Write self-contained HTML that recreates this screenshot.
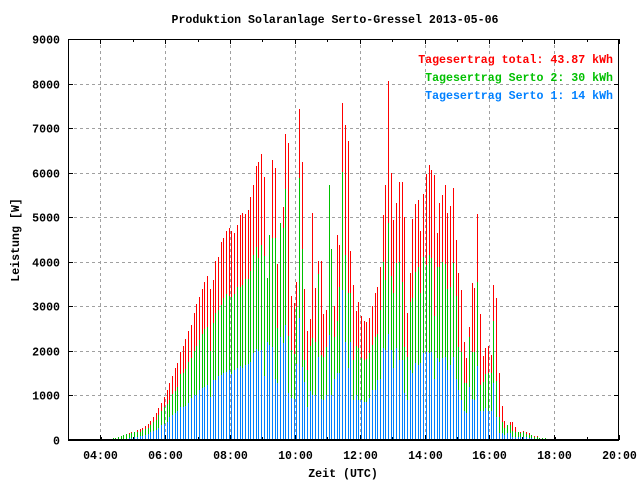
<!DOCTYPE html>
<html><head><meta charset="utf-8"><style>
html,body{margin:0;padding:0;background:#fff}
svg{display:block}
text{font-family:"Liberation Mono",monospace;font-weight:bold;font-size:11.6px}
</style></head><body>
<svg id="chart" width="640" height="480" viewBox="0 0 640 480" xmlns="http://www.w3.org/2000/svg" shape-rendering="crispEdges">
<rect width="640" height="480" fill="#fff"/>
<text x="335" y="23" text-anchor="middle">Produktion Solaranlage Serto-Gressel 2013-05-06</text>
<g id="grid"></g>
<g id="bars"></g>
<g id="axes"></g>
<text x="343" y="477" text-anchor="middle">Zeit (UTC)</text>
<text transform="translate(19,240) rotate(-90)" text-anchor="middle">Leistung [W]</text>
<g>
<text x="613" y="63" text-anchor="end" fill="#ff0000">Tagesertrag total: 43.87 kWh</text>
<text x="613" y="81" text-anchor="end" fill="#00c000">Tagesertrag Serto 2: 30 kWh</text>
<text x="613" y="99" text-anchor="end" fill="#0080ff">Tagesertrag Serto 1: 14 kWh</text>
</g>
</svg>
<script>
const startMinute = 257.5;
const stepMinutes = 5;
const totalW = [20,45,50,75,100,120,140,150,180,190,220,250,270,320,370,430,520,600,720,840,970,1120,1280,1440,1610,1720,1980,
2110,2270,2450,2580,2850,3050,3210,3390,3550,3670,3390,3590,4020,4110,4440,
4540,4690,4760,4690,4650,4820,5040,5100,5070,5160,5450,5720,6160,6240,6420,5900,3630,4600,6280,6100,3960,4860,5230,6870,6670,3230,3070,3550,7420,6240,3390,2450,2720,5100,3410,4020,4020,2830,2920,5720,4290,3000,4600,4380,
7560,7070,6720,4240,3480,2900,3100,2780,2680,2650,2730,3010,3310,3430,3890,5050,5720,8060,6000,4940,5330,5780,5800,5010,2840,3740,4970,5300,5390,4680,5520,5980,6170,6070,5950,4640,5330,5500,5720,5100,5250,5650,4490,3740,3370,2210,1830,2540,
3530,3420,5070,2830,1890,2070,2110,1910,3480,3190,1500,760,430,340,410,410,300,190,190,210,190,150,110,90,90,50,50,50,30];
const serto2W = [20,45,50,75,100,120,140,140,160,170,170,190,220,250,280,330,400,460,550,640,730,810,900,1030,1110,1180,1480,
1500,1590,1740,1840,2000,2120,2240,2380,2500,2540,2000,2630,2840,2920,3040,
3180,3280,3230,3210,3280,3440,3430,3490,3610,3620,3790,4150,4340,4080,4380,4140,3630,4600,4540,4530,2510,4860,4750,5630,2340,2020,1930,2990,5870,4290,1800,1570,2110,2280,2210,3730,1910,1870,2080,5720,4290,2320,2680,3430,
6020,4150,3290,3290,1800,2110,2060,1830,1800,1810,1950,2130,2320,2390,2920,4000,3590,4860,3670,3290,3980,4000,3550,2090,1870,3100,3180,3780,3890,3290,4110,3930,4150,4080,2780,3880,3890,4000,3960,3380,3440,3980,3230,2090,1980,1270,1270,2320,
1980,1980,3550,1230,1310,1480,1500,1500,2660,1320,520,410,260,340,340,210,190,190,150,170,140,110,110,75,75,50,50,50,30];
const serto1W = [0,0,0,10,15,20,30,40,45,60,75,90,100,120,130,180,200,230,280,330,370,400,520,550,600,640,730,
730,770,820,940,1010,1010,1120,1160,1200,1230,970,1350,1350,1440,1460,
1500,1530,1560,1480,1570,1610,1650,1620,1680,1700,1760,1960,2040,2000,2020,1440,2210,2130,2090,1370,1270,2320,2170,2580,1050,940,920,1710,2730,1640,1300,750,1090,1010,1010,1870,910,900,1010,2360,1010,1360,1500,1500,
3370,2210,1610,2210,900,1010,900,900,860,860,940,1120,1120,1350,1380,2060,2020,2390,2020,1610,2060,1800,1800,1050,900,1570,1500,1720,1680,1720,1950,1980,1950,1980,1380,1830,1760,1830,1870,1570,1680,1860,1380,1120,900,640,600,1200,
910,900,1650,640,640,710,640,640,1270,520,150,150,110,150,150,75,75,75,60,60,60,40,40,20,20,0,0,0,0];
const yTicks = [0,1000,2000,3000,4000,5000,6000,7000,8000,9000];
const xTickLabels = ["04:00","06:00","08:00","10:00","12:00","14:00","16:00","18:00","20:00"];
const xTickHours = [4,6,8,10,12,14,16,18,20];
const minorHours = [3,5,7,9,11,13,15,17,19];

const NS = "http://www.w3.org/2000/svg";
const L = 68, R = 619, T = 39, B = 440;
const xMin = 180, xMax = 1200, yMax = 9000;
function xs(min){ return L + (min - xMin) / (xMax - xMin) * (R - L); }
function ys(v){ return B - v / yMax * (B - T); }
function mk(tag, attrs, parent){ const e = document.createElementNS(NS, tag); for (const k in attrs) e.setAttribute(k, attrs[k]); parent.appendChild(e); return e; }

const grid = document.getElementById('grid');
const axes = document.getElementById('axes');
const bars = document.getElementById('bars');

yTicks.forEach(v => {
  const y = Math.round(ys(v)) + 0.5;
  if (v > 0 && v < yMax) {
    const g = mk('line', {x1:L, x2:R, y1:y, y2:y, stroke:'#a0a0a0', 'stroke-dasharray':'3,3', 'stroke-width':1}, grid);
    
    
  }
  const t1 = mk('line', {x1:L, x2:L+5, y1:y, y2:y, stroke:'#000'}, axes);
  
  
  const t2 = mk('line', {x1:R-5, x2:R, y1:y, y2:y, stroke:'#000'}, axes);
  
  
  const lab = mk('text', {x:60, y:y+4, 'text-anchor':'end'}, axes);
  lab.textContent = String(v);
  
  
});

xTickHours.forEach((h, i) => {
  const x = Math.round(xs(h * 60)) + 0.5;
  if (h < 20) {
    const g = mk('line', {x1:x, x2:x, y1:T, y2:B, stroke:'#a0a0a0', 'stroke-dasharray':'3,3', 'stroke-width':1}, grid);
    
    
  }
  const t1 = mk('line', {x1:x, x2:x, y1:B, y2:B-5, stroke:'#000'}, axes);
  
  
  const t2 = mk('line', {x1:x, x2:x, y1:T, y2:T+5, stroke:'#000'}, axes);
  
  
  const lab = mk('text', {x:x, y:459, 'text-anchor':'middle'}, axes);
  lab.textContent = xTickLabels[i];
  
  
});
minorHours.forEach(h => {
  const x = Math.round(xs(h * 60)) + 0.5;
  const t1 = mk('line', {x1:x, x2:x, y1:B, y2:B-3, stroke:'#000'}, axes);
  
  
  const t2 = mk('line', {x1:x, x2:x, y1:T, y2:T+3, stroke:'#000'}, axes);
  
  
});

function drawSeries(arr, color, name){
  arr.forEach((v, i) => {
    if (v <= 0) return;
    const x = Math.round(xs(startMinute + i * stepMinutes));
    const y = Math.round(ys(v));
    const r = mk('rect', {x:x, y:y, width:1, height:B - y, fill:color}, bars);
    
    
  });
}
drawSeries(totalW, '#ff0000', 'bar-total');
drawSeries(serto2W, '#00c000', 'bar-serto-2');
drawSeries(serto1W, '#0080ff', 'bar-serto-1');

const m1 = mk('rect', {x:Math.round(xs(240)), y:B-3, width:2, height:3, fill:'#000'}, axes);


const m2 = mk('rect', {x:Math.round(xs(1080)), y:B-3, width:2, height:3, fill:'#000'}, axes);



const frame = mk('rect', {x:L+0.5, y:T+0.5, width:R-L-1, height:B-T-1, fill:'none', stroke:'#000', 'stroke-width':1}, axes);


const base = mk('line', {x1:L, x2:R, y1:B, y2:B, stroke:'#000', 'stroke-width':2}, axes);


</script>
</body></html>
